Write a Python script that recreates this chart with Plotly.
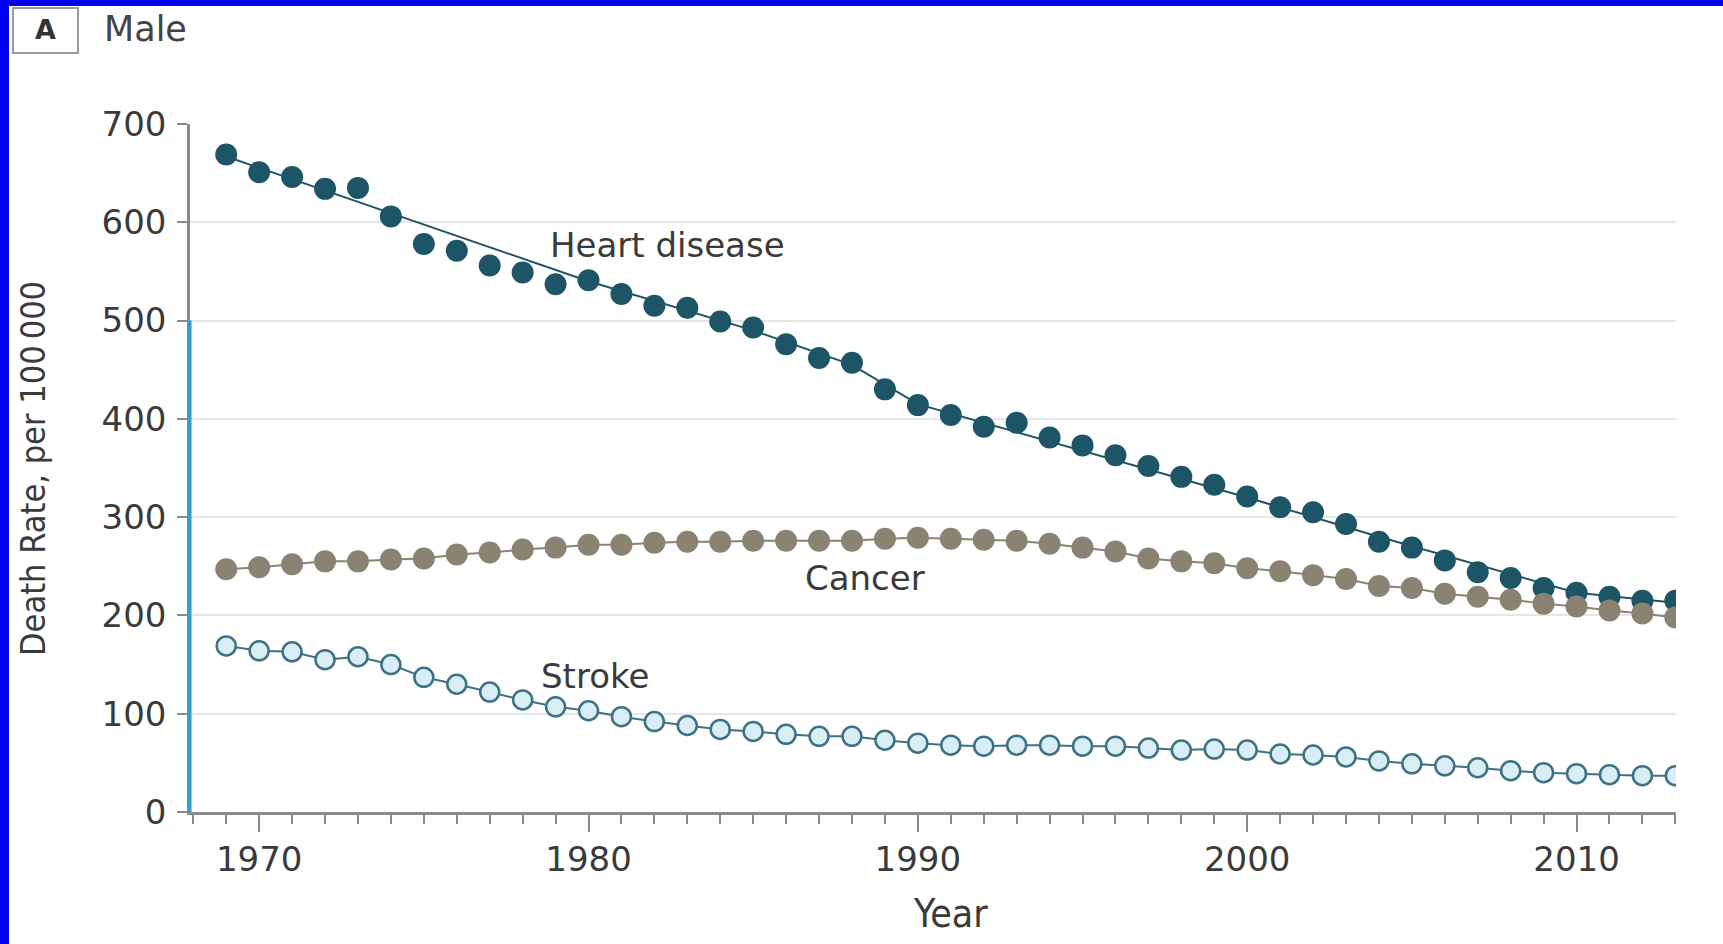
import plotly.graph_objects as go

years = list(range(1969, 2014))

heart_disease = [669, 651, 646, 634, 635, 606, 578, 571, 556, 549, 537, 541, 527, 515, 513,
                 499, 493, 476, 462, 457, 430, 414, 404, 392, 396, 381, 373, 363, 352, 341,
                 333, 321, 310, 305, 293, 275, 269, 256, 244, 238, 228, 223, 219, 215, 215]

cancer = [247, 249, 252, 255, 255, 257, 258, 262, 264, 267, 269, 272, 272, 274, 275,
          275, 276, 276, 276, 276, 278, 279, 278, 277, 276, 273, 269, 265, 258, 255,
          253, 248, 245, 241, 237, 230, 228, 222, 219, 216, 212, 209, 205, 202, 198]

stroke = [169, 164, 163, 155, 158, 150, 137, 130, 122, 114, 107, 103, 97, 92, 88,
          84, 82, 79, 77, 77, 73, 70, 68, 67, 68, 68, 67, 67, 65, 63,
          64, 63, 59, 58, 56, 52, 49, 47, 45, 42, 40, 39, 38, 37, 37]

# joinpoint trend line for heart disease
hd_fit_years = [1969, 1980, 1985, 1988, 1990, 1992, 2000, 2004, 2010, 2013]
hd_fit_values = [667, 540, 490, 455, 415, 396, 320, 280, 223, 213]

y_ticks = [0, 100, 200, 300, 400, 500, 600, 700]
x_ticks = [1970, 1980, 1990, 2000, 2010]

C_HD = "#1d5566"
C_CA = "#8a8372"
C_ST_LINE = "#3d7183"
C_ST_FILL = "#d8edf4"
FONT = "DejaVu Sans"
COND = "DejaVu Sans Condensed, Liberation Sans Narrow, DejaVu Sans"
TXT = "#3a3a3a"

fig = go.Figure()

fig.add_trace(go.Scatter(x=hd_fit_years, y=hd_fit_values, mode="lines",
                         line=dict(color=C_HD, width=2), hoverinfo="skip", showlegend=False))
fig.add_trace(go.Scatter(x=years, y=heart_disease, mode="markers", name="Heart disease",
                         marker=dict(color=C_HD, size=22, line=dict(width=0)), showlegend=False))
fig.add_trace(go.Scatter(x=years, y=cancer, mode="lines+markers", name="Cancer",
                         line=dict(color=C_CA, width=2),
                         marker=dict(color=C_CA, size=22, line=dict(width=0)), showlegend=False))
fig.add_trace(go.Scatter(x=years, y=stroke, mode="lines+markers", name="Stroke",
                         line=dict(color=C_ST_LINE, width=2),
                         marker=dict(color=C_ST_FILL, size=19, line=dict(color=C_ST_LINE, width=2.5)),
                         showlegend=False))

L, R, T, B = 190, 47, 124, 132
W, H = 1723, 944
pw, ph = W - L - R, H - T - B

def px_x(p):
    return (p - L) / pw

def px_y(p):
    return (H - B - p) / ph

shapes = [
    # blue frame (left and top)
    dict(type="rect", xref="paper", yref="paper", x0=px_x(0), x1=px_x(9), y0=px_y(H), y1=px_y(0),
         fillcolor="#0000f2", line=dict(width=0), layer="above"),
    dict(type="rect", xref="paper", yref="paper", x0=px_x(0), x1=px_x(W), y0=px_y(6), y1=px_y(0),
         fillcolor="#0000f2", line=dict(width=0), layer="above"),
    # panel label box
    dict(type="rect", xref="paper", yref="paper", x0=px_x(13), x1=px_x(78), y0=px_y(53), y1=px_y(8),
         fillcolor="white", line=dict(color="#9a9a9a", width=2)),
    # highlighted lower part of y axis
    dict(type="line", xref="paper", yref="y", x0=0, x1=0, y0=0, y1=500,
         line=dict(color="#14a6e0", width=3), layer="above"),
]

annotations = [
    dict(text="<b>A</b>", xref="paper", yref="paper", x=px_x(45), y=px_y(30), showarrow=False,
         font=dict(family=FONT, size=27, color="#333333"), xanchor="center", yanchor="middle"),
    dict(text="Male", xref="paper", yref="paper", x=px_x(102), y=px_y(29), showarrow=False,
         font=dict(family=FONT, size=35, color="#444444"), xanchor="left", yanchor="middle"),
    dict(text="Heart disease", x=1982.4, y=577, showarrow=False,
         font=dict(family=FONT, size=34, color=TXT), xanchor="center", yanchor="middle"),
    dict(text="Cancer", x=1988.4, y=238, showarrow=False,
         font=dict(family=FONT, size=34, color=TXT), xanchor="center", yanchor="middle"),
    dict(text="Stroke", x=1980.2, y=138, showarrow=False,
         font=dict(family=FONT, size=34, color=TXT), xanchor="center", yanchor="middle"),
    dict(text="Year", xref="paper", yref="paper", x=px_x(950), y=px_y(913), showarrow=False,
         font=dict(family=COND, size=39, color=TXT), xanchor="center", yanchor="middle"),
    dict(text="Death Rate, per 100\u2009000", xref="paper", yref="paper", x=px_x(33), y=px_y(469),
         showarrow=False, textangle=-90,
         font=dict(family=COND, size=34, color=TXT), xanchor="center", yanchor="middle"),
]

fig.update_layout(
    width=W, height=H,
    margin=dict(l=L, r=R, t=T, b=B, pad=0),
    paper_bgcolor="white", plot_bgcolor="white",
    shapes=shapes, annotations=annotations,
    xaxis=dict(range=[1967.9, 2013.02], tickmode="array", tickvals=x_ticks,
               ticktext=[str(v) for v in x_ticks],
               ticks="outside", ticklen=17, tickwidth=2, tickcolor="#8a8a8a",
               minor=dict(dtick=1, tick0=1969, ticks="outside", ticklen=9, tickwidth=2,
                          tickcolor="#8a8a8a", showgrid=False),
               showgrid=False, zeroline=False, showline=True, linecolor="#8a8a8a", linewidth=2.5,
               tickfont=dict(family=FONT, size=34, color=TXT), ticklabelstandoff=-2),
    yaxis=dict(range=[0, 700], tickmode="array", tickvals=y_ticks,
               ticks="outside", ticklen=10, tickwidth=2, tickcolor="#8a8a8a",
               showgrid=True, gridcolor="#e6e6e6", gridwidth=2, zeroline=False,
               showline=True, linecolor="#8a8a8a", linewidth=2.5,
               tickfont=dict(family=FONT, size=34, color=TXT), ticklabelstandoff=4),
    font=dict(family=FONT, color=TXT),
)

fig.write_html("out.html", config={"displayModeBar": False},
               post_script="document.body.style.margin='0';")
